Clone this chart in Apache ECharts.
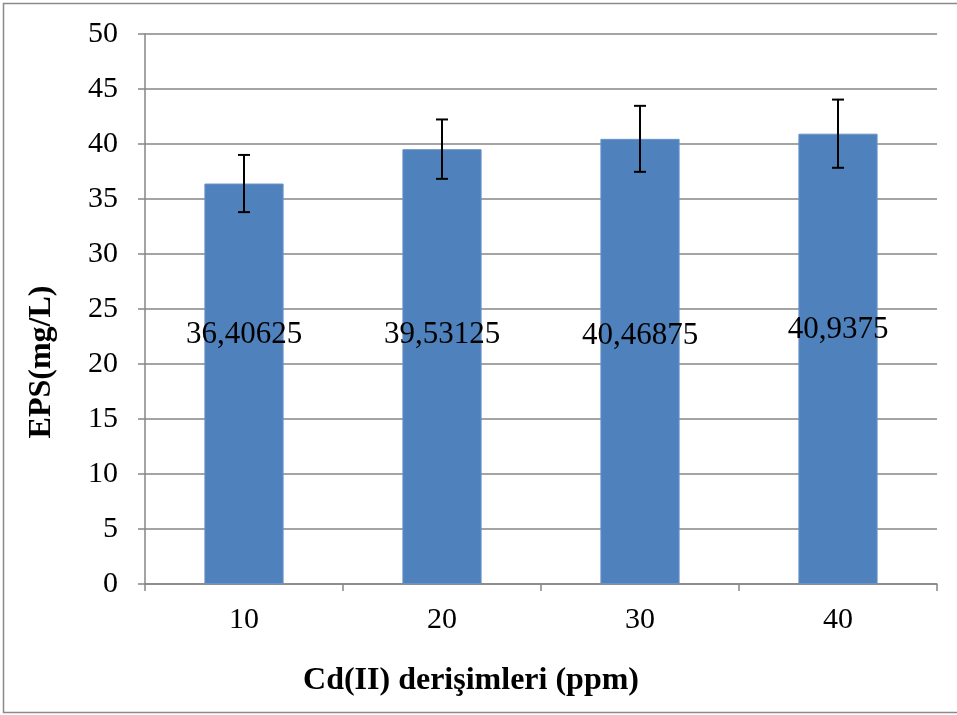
<!DOCTYPE html>
<html>
<head>
<meta charset="utf-8">
<script src="https://cdn.jsdelivr.net/npm/echarts@6/dist/echarts.min.js"></script>
<style>html,body{margin:0;padding:0;background:#fff;}#c{width:957px;height:715px;}</style>
</head>
<body>
<div id="c"></div>
<script>
var categories = ['10', '20', '30', '40'];
var values = [36.40625, 39.53125, 40.46875, 40.9375];
var errors = [2.6, 2.7, 3.0, 3.1];
var labelTexts = ['36,40625', '39,53125', '40,46875', '40,9375'];
var labelOffsets = [[0, -49], [0, -32], [0, -26], [0, -29]];
var xTitle = 'Cd(II) derişimleri (ppm)';
var yTitle = 'EPS(mg/L)';

var FONT = '"Liberation Serif", "Times New Roman", serif';
var chart = echarts.init(document.getElementById('c'));

var barData = values.map(function (v, i) {
  return {
    value: v,
    label: { offset: labelOffsets[i], formatter: labelTexts[i] }
  };
});
var errData = values.map(function (v, i) { return [i, v - errors[i], v + errors[i]]; });

chart.setOption({
  animation: false,
  backgroundColor: '#fff',
  graphic: [{
    type: 'rect', silent: true, z: -1,
    shape: { x: 3.5, y: 3.5, width: 980, height: 709 },
    style: { fill: 'none', stroke: '#8a8a8a', lineWidth: 1.5 }
  }, {
    type: 'text', silent: true,
    x: 42, y: 362, rotation: Math.PI / 2,
    style: {
      text: yTitle, fontFamily: FONT, fontWeight: 'bold', fontSize: 32, fill: '#000',
      align: 'center', verticalAlign: 'middle'
    }
  }, {
    type: 'text', silent: true,
    x: 471, y: 681,
    style: {
      text: xTitle, fontFamily: FONT, fontWeight: 'bold', fontSize: 32, fill: '#000',
      align: 'center', verticalAlign: 'middle'
    }
  }],
  grid: { left: 145, right: 20, top: 34, bottom: 131 },
  xAxis: {
    type: 'category',
    data: categories,
    axisLine: { lineStyle: { color: '#868686', width: 1.5 } },
    axisTick: { show: true, length: 7, lineStyle: { color: '#868686', width: 1.5 } },
    axisLabel: { fontFamily: FONT, fontSize: 30, color: '#000', margin: 21 }
  },
  yAxis: {
    type: 'value',
    min: 0, max: 50, interval: 5,
    axisLine: { show: true, lineStyle: { color: '#868686', width: 1.5 } },
    axisTick: { show: true, length: 7, lineStyle: { color: '#868686', width: 1.5 } },
    axisLabel: { fontFamily: FONT, fontSize: 30, color: '#000', margin: 27 },
    splitLine: { lineStyle: { color: '#868686', width: 1.5 } }
  },
  series: [{
    type: 'bar',
    data: barData,
    barWidth: '40%',
    itemStyle: { color: '#4f81bd', borderColor: '#6a93c8', borderWidth: 1 },
    label: {
      show: true, position: 'inside',
      fontFamily: FONT, fontSize: 31, color: '#000'
    },
    z: 2
  }, {
    type: 'custom',
    data: errData,
    z: 5,
    renderItem: function (params, api) {
      var x = api.value(0);
      var lo = api.coord([x, api.value(1)]);
      var hi = api.coord([x, api.value(2)]);
      var hw = 6;
      var st = { stroke: '#000', lineWidth: 2 };
      return {
        type: 'group',
        children: [
          { type: 'line', shape: { x1: hi[0], y1: hi[1], x2: lo[0], y2: lo[1] }, style: st },
          { type: 'line', shape: { x1: hi[0] - hw, y1: hi[1], x2: hi[0] + hw, y2: hi[1] }, style: st },
          { type: 'line', shape: { x1: lo[0] - hw, y1: lo[1], x2: lo[0] + hw, y2: lo[1] }, style: st }
        ]
      };
    }
  }]
});
</script>
</body>
</html>
